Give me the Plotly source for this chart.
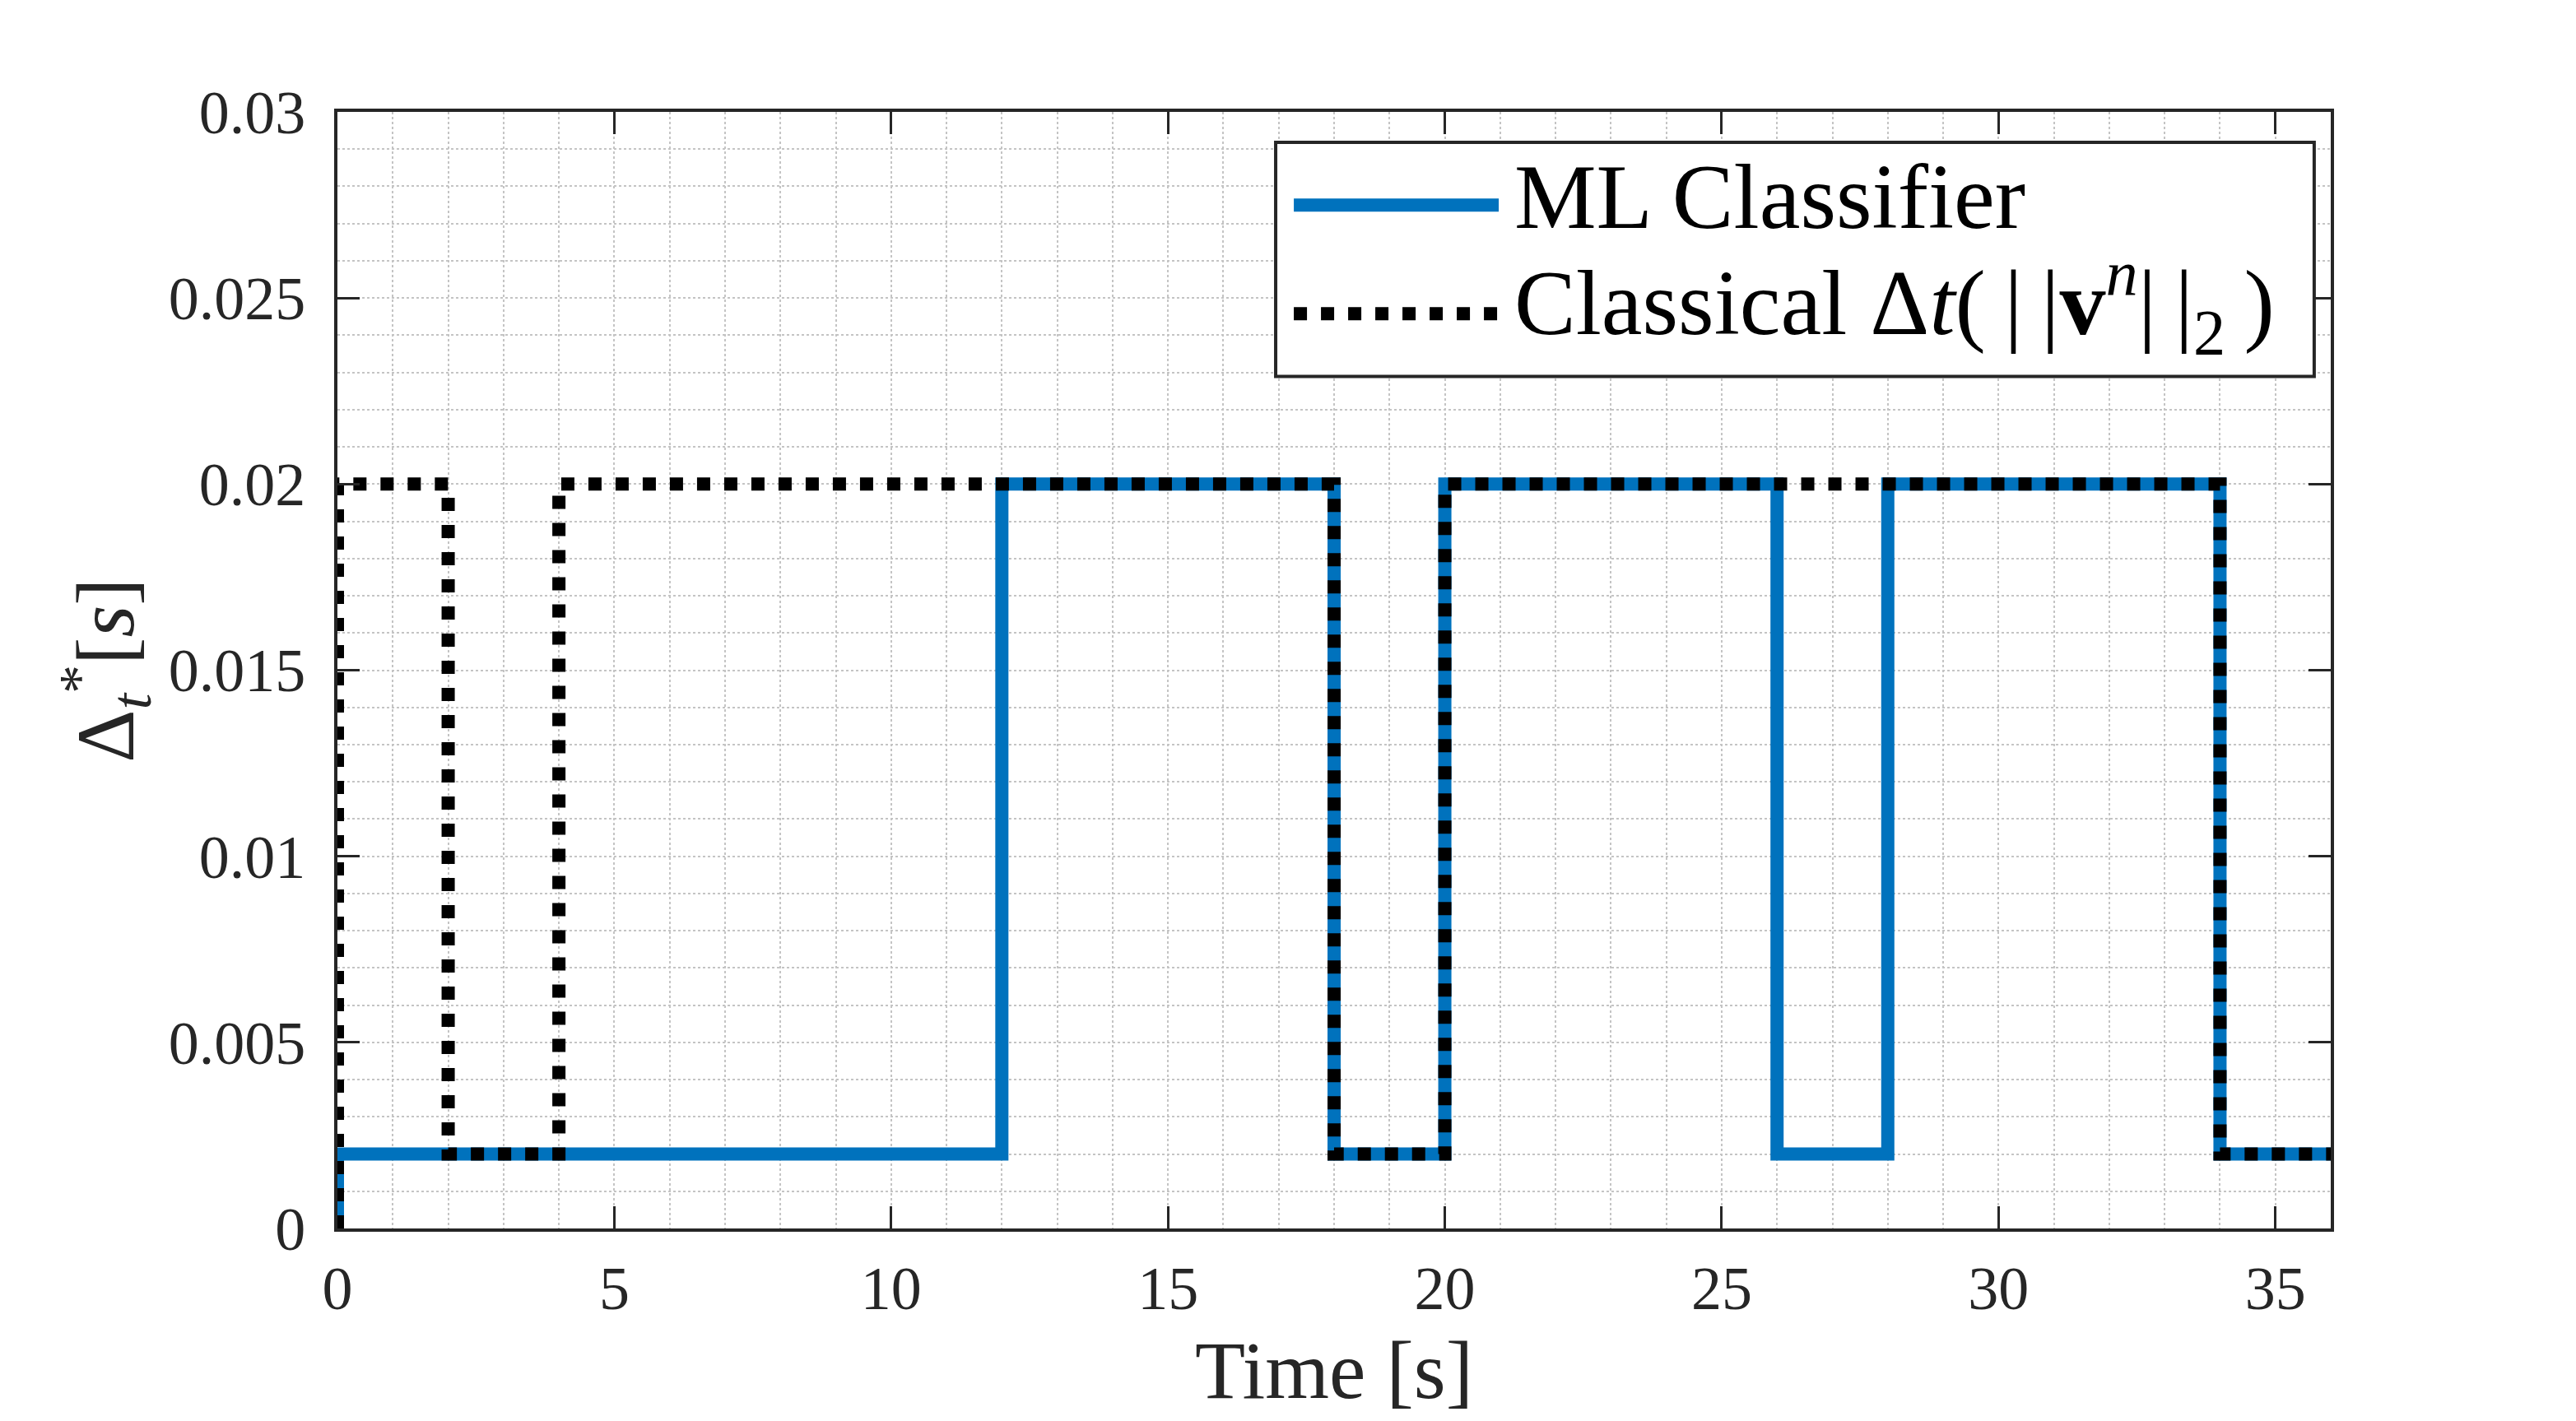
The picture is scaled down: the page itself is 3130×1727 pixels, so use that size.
import plotly.graph_objects as go

# step data
ml_t = [0, 0, 12, 18, 20, 26, 28, 34, 36]
ml_dt = [0, 0.002, 0.02, 0.002, 0.02, 0.002, 0.02, 0.002, 0.002]

cl_t = [0, 0, 2, 4, 18, 20, 34, 36]
cl_dt = [0, 0.02, 0.002, 0.02, 0.002, 0.02, 0.002, 0.002]

x_ticks = [0, 5, 10, 15, 20, 25, 30, 35]
y_ticks = [0, 0.005, 0.01, 0.015, 0.02, 0.025, 0.03]
y_ticktext = ["0", "0.005", "0.01", "0.015", "0.02", "0.025", "0.03"]

legend_names = ["ML Classifier",
                "Classical Δ<i>t</i>(\u2009|\u2009|<b>v</b><sup><i>n</i></sup>|\u2009|<sub>2</sub>\u2009)"]

blue = "#0072BD"
axcol = "#262626"
font = "Liberation Serif"

fig = go.Figure()
fig.add_trace(go.Scatter(x=ml_t, y=ml_dt, mode="lines", line_shape="hv",
                         line=dict(color=blue, width=16), showlegend=False))
fig.add_trace(go.Scatter(x=cl_t, y=cl_dt, mode="lines", line_shape="hv",
                         line=dict(color="black", width=16, dash="16px,17px"),
                         showlegend=False))

# hand made legend, MATLAB style
fig.add_shape(type="rect", xref="paper", yref="paper", x0=0.4707, x1=0.9917, y0=0.763, y1=0.9727,
              line=dict(color=axcol, width=4), fillcolor="white", layer="above")
fig.add_shape(type="line", xref="paper", yref="paper", x0=0.4798, x1=0.5826, y0=0.9165, y1=0.9165,
              line=dict(color=blue, width=16), layer="above")
fig.add_shape(type="line", xref="paper", yref="paper", x0=0.4798, x1=0.5826, y0=0.8193, y1=0.8193,
              line=dict(color="black", width=16, dash="16px,17px"), layer="above")
for name, yy in zip(legend_names, [0.924, 0.829]):
    fig.add_annotation(text=name, xref="paper", yref="paper", x=0.5896, y=yy,
                       xanchor="left", yanchor="middle", showarrow=False,
                       font=dict(family=font, size=112, color="black"))

grid = dict(showgrid=True, gridcolor="#c4c4c4", griddash="dot", gridwidth=2)
fig.update_xaxes(range=[0, 36], tickvals=x_ticks, ticks="inside", ticklen=27, tickwidth=3,
                 tickcolor=axcol, showline=True, linewidth=4, linecolor=axcol, mirror="ticks",
                 tickfont=dict(family=font, size=74, color=axcol), ticklabelstandoff=5,
                 title=dict(text="Time [s]", font=dict(family=font, size=100, color=axcol), standoff=24),
                 minor=dict(dtick=1, showgrid=True, gridcolor="#c4c4c4", griddash="dot", gridwidth=2),
                 zeroline=False, automargin=False, **grid)
fig.update_yaxes(range=[0, 0.03], tickvals=y_ticks, ticktext=y_ticktext, ticks="inside", ticklen=27,
                 tickwidth=3, tickcolor=axcol, showline=True, linewidth=4, linecolor=axcol,
                 mirror="ticks", tickfont=dict(family=font, size=74, color=axcol), ticklabelstandoff=20,
                 title=dict(text="Δ<sub><i>t</i></sub><sup>*</sup>[<i>s</i>]",
                            font=dict(family=font, size=100, color=axcol), standoff=10),
                 minor=dict(dtick=0.001, showgrid=True, gridcolor="#c4c4c4", griddash="dot", gridwidth=2),
                 zeroline=False, automargin=False, **grid)

fig.update_layout(width=3130, height=1727, plot_bgcolor="white", paper_bgcolor="white",
                  margin=dict(l=402, r=306, t=128, b=242))
fig.write_html("out.html")
